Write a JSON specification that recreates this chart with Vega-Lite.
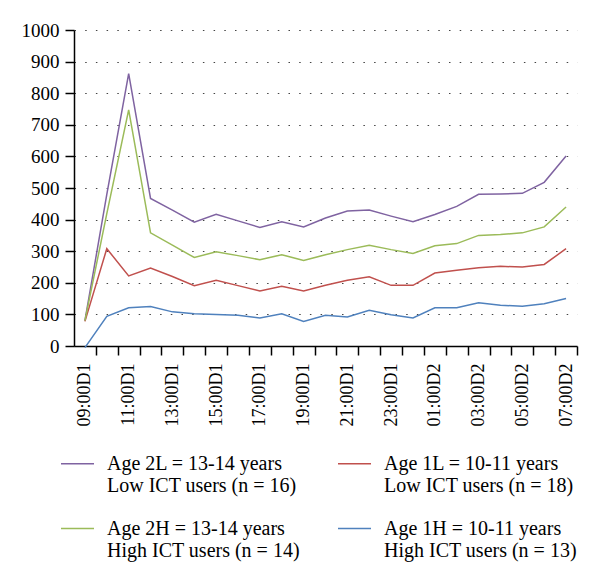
{
  "$schema": "https://vega.github.io/schema/vega-lite/v6.json",
  "width": 503,
  "height": 316,
  "autosize": {"type": "none"},
  "padding": {"left": 74, "top": 30, "right": 23, "bottom": 240},
  "background": "white",
  "config": {"view": {"stroke": null}, "font": "Liberation Serif"},
  "data": {"values": [
    {"time": "09:00D1", "group": "2L", "value": 80}, {"time": "09:00D1", "group": "1L", "value": 78}, {"time": "09:00D1", "group": "2H", "value": 80}, {"time": "09:00D1", "group": "1H", "value": -5},
    {"time": "10:00D1", "group": "2L", "value": 480}, {"time": "10:00D1", "group": "1L", "value": 308}, {"time": "10:00D1", "group": "2H", "value": 419}, {"time": "10:00D1", "group": "1H", "value": 94},
    {"time": "11:00D1", "group": "2L", "value": 862}, {"time": "11:00D1", "group": "1L", "value": 222}, {"time": "11:00D1", "group": "2H", "value": 747}, {"time": "11:00D1", "group": "1H", "value": 121},
    {"time": "12:00D1", "group": "2L", "value": 467}, {"time": "12:00D1", "group": "1L", "value": 247}, {"time": "12:00D1", "group": "2H", "value": 358}, {"time": "12:00D1", "group": "1H", "value": 125},
    {"time": "13:00D1", "group": "2L", "value": 430}, {"time": "13:00D1", "group": "1L", "value": 220}, {"time": "13:00D1", "group": "2H", "value": 319}, {"time": "13:00D1", "group": "1H", "value": 108},
    {"time": "14:00D1", "group": "2L", "value": 392}, {"time": "14:00D1", "group": "1L", "value": 191}, {"time": "14:00D1", "group": "2H", "value": 280}, {"time": "14:00D1", "group": "1H", "value": 102},
    {"time": "15:00D1", "group": "2L", "value": 417}, {"time": "15:00D1", "group": "1L", "value": 208}, {"time": "15:00D1", "group": "2H", "value": 298}, {"time": "15:00D1", "group": "1H", "value": 100},
    {"time": "16:00D1", "group": "2L", "value": 396}, {"time": "16:00D1", "group": "1L", "value": 191}, {"time": "16:00D1", "group": "2H", "value": 286}, {"time": "16:00D1", "group": "1H", "value": 97},
    {"time": "17:00D1", "group": "2L", "value": 375}, {"time": "17:00D1", "group": "1L", "value": 174}, {"time": "17:00D1", "group": "2H", "value": 273}, {"time": "17:00D1", "group": "1H", "value": 89},
    {"time": "18:00D1", "group": "2L", "value": 393}, {"time": "18:00D1", "group": "1L", "value": 189}, {"time": "18:00D1", "group": "2H", "value": 289}, {"time": "18:00D1", "group": "1H", "value": 102},
    {"time": "19:00D1", "group": "2L", "value": 377}, {"time": "19:00D1", "group": "1L", "value": 174}, {"time": "19:00D1", "group": "2H", "value": 271}, {"time": "19:00D1", "group": "1H", "value": 78},
    {"time": "20:00D1", "group": "2L", "value": 405}, {"time": "20:00D1", "group": "1L", "value": 192}, {"time": "20:00D1", "group": "2H", "value": 289}, {"time": "20:00D1", "group": "1H", "value": 97},
    {"time": "21:00D1", "group": "2L", "value": 427}, {"time": "21:00D1", "group": "1L", "value": 208}, {"time": "21:00D1", "group": "2H", "value": 305}, {"time": "21:00D1", "group": "1H", "value": 92},
    {"time": "22:00D1", "group": "2L", "value": 430}, {"time": "22:00D1", "group": "1L", "value": 219}, {"time": "22:00D1", "group": "2H", "value": 319}, {"time": "22:00D1", "group": "1H", "value": 113},
    {"time": "23:00D1", "group": "2L", "value": 411}, {"time": "23:00D1", "group": "1L", "value": 192}, {"time": "23:00D1", "group": "2H", "value": 305}, {"time": "23:00D1", "group": "1H", "value": 99},
    {"time": "00:00D2", "group": "2L", "value": 393}, {"time": "00:00D2", "group": "1L", "value": 192}, {"time": "00:00D2", "group": "2H", "value": 293}, {"time": "00:00D2", "group": "1H", "value": 89},
    {"time": "01:00D2", "group": "2L", "value": 416}, {"time": "01:00D2", "group": "1L", "value": 231}, {"time": "01:00D2", "group": "2H", "value": 317}, {"time": "01:00D2", "group": "1H", "value": 121},
    {"time": "02:00D2", "group": "2L", "value": 442}, {"time": "02:00D2", "group": "1L", "value": 240}, {"time": "02:00D2", "group": "2H", "value": 324}, {"time": "02:00D2", "group": "1H", "value": 121},
    {"time": "03:00D2", "group": "2L", "value": 480}, {"time": "03:00D2", "group": "1L", "value": 248}, {"time": "03:00D2", "group": "2H", "value": 350}, {"time": "03:00D2", "group": "1H", "value": 137},
    {"time": "04:00D2", "group": "2L", "value": 481}, {"time": "04:00D2", "group": "1L", "value": 252}, {"time": "04:00D2", "group": "2H", "value": 353}, {"time": "04:00D2", "group": "1H", "value": 129},
    {"time": "05:00D2", "group": "2L", "value": 483}, {"time": "05:00D2", "group": "1L", "value": 250}, {"time": "05:00D2", "group": "2H", "value": 358}, {"time": "05:00D2", "group": "1H", "value": 126},
    {"time": "06:00D2", "group": "2L", "value": 518}, {"time": "06:00D2", "group": "1L", "value": 258}, {"time": "06:00D2", "group": "2H", "value": 377}, {"time": "06:00D2", "group": "1H", "value": 134},
    {"time": "07:00D2", "group": "2L", "value": 601}, {"time": "07:00D2", "group": "1L", "value": 308}, {"time": "07:00D2", "group": "2H", "value": 440}, {"time": "07:00D2", "group": "1H", "value": 150}
  ]},
  "mark": {"type": "line", "strokeWidth": 1.5},
  "encoding": {
    "x": {
      "field": "time", "type": "ordinal", "sort": null,
      "scale": {"type": "point", "padding": 0.5},
      "axis": {
        "title": null, "labelAngle": -90, "labelFontSize": 18, "labelColor": "black",
        "labelPadding": 8, "tickSize": 9, "tickColor": "black", "tickWidth": 1.5,
        "tickOffset": 10.935, "labelOffset": -10.935,
        "domainColor": "black", "domainWidth": 1.5, "grid": false,
        "labelExpr": "indexof(['09','11','13','15','17','19','21','23','01','03','05','07'], slice(datum.value, 0, 2)) >= 0 ? datum.value : ''"
      }
    },
    "y": {
      "field": "value", "type": "quantitative",
      "scale": {"domain": [0, 1000], "nice": false},
      "axis": {
        "title": null, "values": [0, 100, 200, 300, 400, 500, 600, 700, 800, 900, 1000], "format": "d",
        "labelFontSize": 19, "labelColor": "black", "labelPadding": 6,
        "tickSize": 9, "tickColor": "black", "tickWidth": 1.5,
        "domainColor": "black", "domainWidth": 1.5,
        "grid": true, "gridColor": "#444444", "gridDash": [1.5, 9.2], "gridWidth": 1.2, "gridOpacity": 1
      }
    },
    "color": {
      "field": "group", "type": "nominal",
      "scale": {"domain": ["2L", "2H", "1L", "1H"], "range": ["#7f63a1", "#9bbb59", "#c0504d", "#4f81bd"]},
      "legend": {
        "title": null, "orient": "none", "legendX": -14, "legendY": 416, "columns": 2,
        "symbolType": "stroke", "symbolSize": 1089, "symbolStrokeWidth": 1.5,
        "labelFontSize": 20, "labelColor": "black", "labelOffset": 12, "labelLimit": 400,
        "columnPadding": 35, "rowPadding": 15,
        "labelExpr": "datum.value == '2L' ? ['Age 2L = 13-14 years', 'Low ICT users (n = 16)'] : datum.value == '1L' ? ['Age 1L = 10-11 years', 'Low ICT users (n = 18)'] : datum.value == '2H' ? ['Age 2H = 13-14 years', 'High ICT users (n = 14)'] : ['Age 1H = 10-11 years', 'High ICT users (n = 13)']"
      }
    }
  }
}
